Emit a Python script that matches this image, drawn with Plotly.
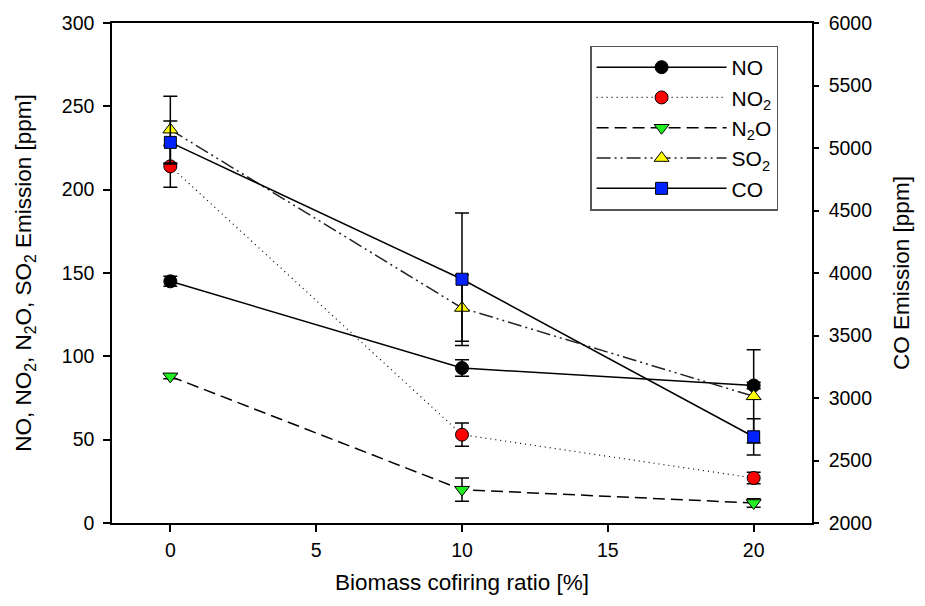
import plotly.graph_objects as go

ratio = [0, 10, 20]
no_vals = [145, 93, 82.5]
no_err = [3, 5, 2]
no2_vals = [214, 53, 27]
no2_err = [12.5, 7, 3.5]
n2o_vals = [88, 20, 12]
n2o_err = [1.5, 7, 2.5]
so2_vals = [236, 129, 76]
so2_err = [20, 20, 28]
co_vals = [5045, 3950, 2690]
co_err = [172, 530, 145]

FONT = "Liberation Sans, Arial, sans-serif"

def err(arr):
    return dict(type="data", array=arr, visible=True, color="black", thickness=1.5, width=7)

fig = go.Figure()
fig.add_trace(go.Scatter(x=ratio, y=no_vals, name="NO", mode="lines+markers",
    line=dict(color="black", width=1.5),
    marker=dict(symbol="circle", size=13, color="black", line=dict(color="black", width=1)),
    error_y=err(no_err)))
fig.add_trace(go.Scatter(x=ratio, y=no2_vals, name="NO<sub>2</sub>", mode="lines+markers",
    line=dict(color="black", width=1.2, dash="1px,4px"),
    marker=dict(symbol="circle", size=13, color="red", line=dict(color="black", width=1)),
    error_y=err(no2_err)))
fig.add_trace(go.Scatter(x=ratio, y=n2o_vals, name="N<sub>2</sub>O", mode="lines+markers",
    line=dict(color="black", width=1.5, dash="12px,6px"),
    marker=dict(symbol="triangle-down", size=13, color="#22ee22", line=dict(color="black", width=1)),
    error_y=err(n2o_err)))
fig.add_trace(go.Scatter(x=ratio, y=so2_vals, name="SO<sub>2</sub>", mode="lines+markers",
    line=dict(color="#222222", width=1.5, dash="14px,4px,2px,4px,2px,4px"),
    marker=dict(symbol="triangle-up", size=13, color="#ffff00", line=dict(color="black", width=1)),
    error_y=err(so2_err)))
fig.add_trace(go.Scatter(x=ratio, y=co_vals, name="CO", mode="lines+markers", yaxis="y2",
    line=dict(color="black", width=1.5),
    marker=dict(symbol="square", size=12, color="#0022ff", line=dict(color="black", width=1)),
    error_y=err(co_err)))

fig.update_layout(
    width=925, height=606,
    margin=dict(l=112, r=113, t=20, b=83),
    paper_bgcolor="white", plot_bgcolor="white",
    font=dict(family=FONT, size=19.5, color="black"),
    showlegend=True,
    legend=dict(x=0.683, y=0.955, xanchor="left", yanchor="top",
        bgcolor="white", bordercolor="#555555", borderwidth=1.5,
        font=dict(family=FONT, size=21), tracegroupgap=0, itemwidth=130),
    xaxis=dict(range=[-2, 22], tickvals=[0, 5, 10, 15, 20], showgrid=False, zeroline=False,
        showline=True, linecolor="black", linewidth=1.5, mirror=True,
        ticks="outside", ticklen=7, tickwidth=1.5, tickcolor="black",
        tickfont=dict(size=19.5), ticklabelstandoff=2,
        title=dict(text="Biomass cofiring ratio [%]", font=dict(size=22.5), standoff=14)),
    yaxis=dict(range=[0, 300], dtick=50, showgrid=False, zeroline=False,
        showline=True, linecolor="black", linewidth=1.5,
        ticks="outside", ticklen=7, tickwidth=1.5, tickcolor="black",
        tickfont=dict(size=19.5), ticklabelstandoff=5,
        title=dict(text="NO, NO<sub>2</sub>, N<sub>2</sub>O, SO<sub>2</sub> Emission [ppm]", font=dict(size=22.5), standoff=24)),
    yaxis2=dict(range=[2000, 6000], dtick=500, overlaying="y", side="right", showgrid=False, zeroline=False,
        showline=True, linecolor="black", linewidth=1.5,
        ticks="outside", ticklen=5, tickwidth=1.5, tickcolor="black",
        tickfont=dict(size=19.5), ticklabelstandoff=6,
        title=dict(text="CO Emission [ppm]", font=dict(size=22.5), standoff=22)),
)

fig.write_html("out.html")
